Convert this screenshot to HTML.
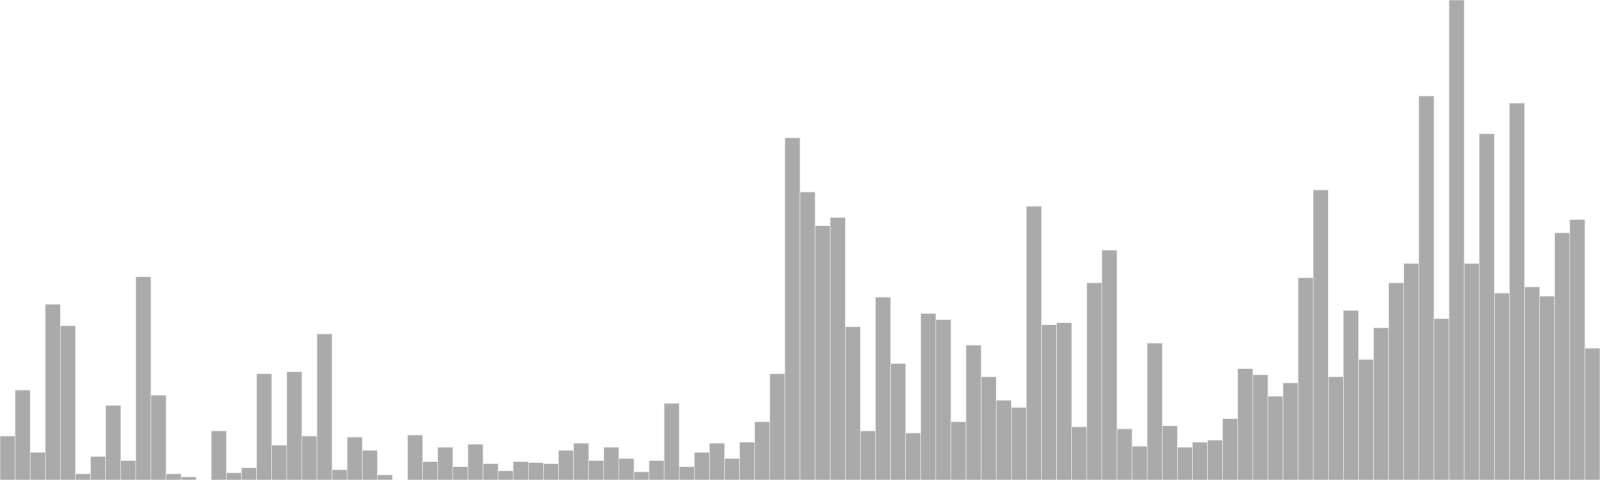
<!DOCTYPE html>
<html><head><meta charset="utf-8"><style>html,body{margin:0;padding:0;background:#fff;}svg{display:block;}</style></head>
<body>
<svg id="chart" width="1600" height="480" viewBox="0 0 1600 480"></svg>
<script>
const categories = Array.from({length:106},(_,i)=>'c'+(i+1));
const values = [43,88,27,172,151,6,23,73,19,199,83,6,3,0,48,7,12,104,34,106,43,143,10,42,29,5,0,44,18,32,13,35,16,9,18,17,16,29,36,19,32,21,8,19,75,13,27,36,21,37,57,104,335,282,249,257,150,48,179,114,46,163,157,57,132,101,78,71,268,152,154,52,193,225,50,33,134,53,32,37,39,60,109,103,82,95,198,284,101,166,118,149,193,212,376,158,470,212,339,183,369,189,180,242,255,129];
const svg=document.getElementById('chart');
const W=1600/values.length, H=480, maxV=470;
const y=v=>H-v/maxV*H;
values.forEach((v,i)=>{
  const r=document.createElementNS('http://www.w3.org/2000/svg','rect');
  r.setAttribute('x',i*W);
  r.setAttribute('y',y(v));
  r.setAttribute('width',W);
  r.setAttribute('height',H-y(v));
  r.setAttribute('fill','#aaaaaa');
  r.setAttribute('stroke','#e6e6e6');
  r.setAttribute('stroke-width','0.6');
  
  
  svg.appendChild(r);
});
</script>
</body></html>
